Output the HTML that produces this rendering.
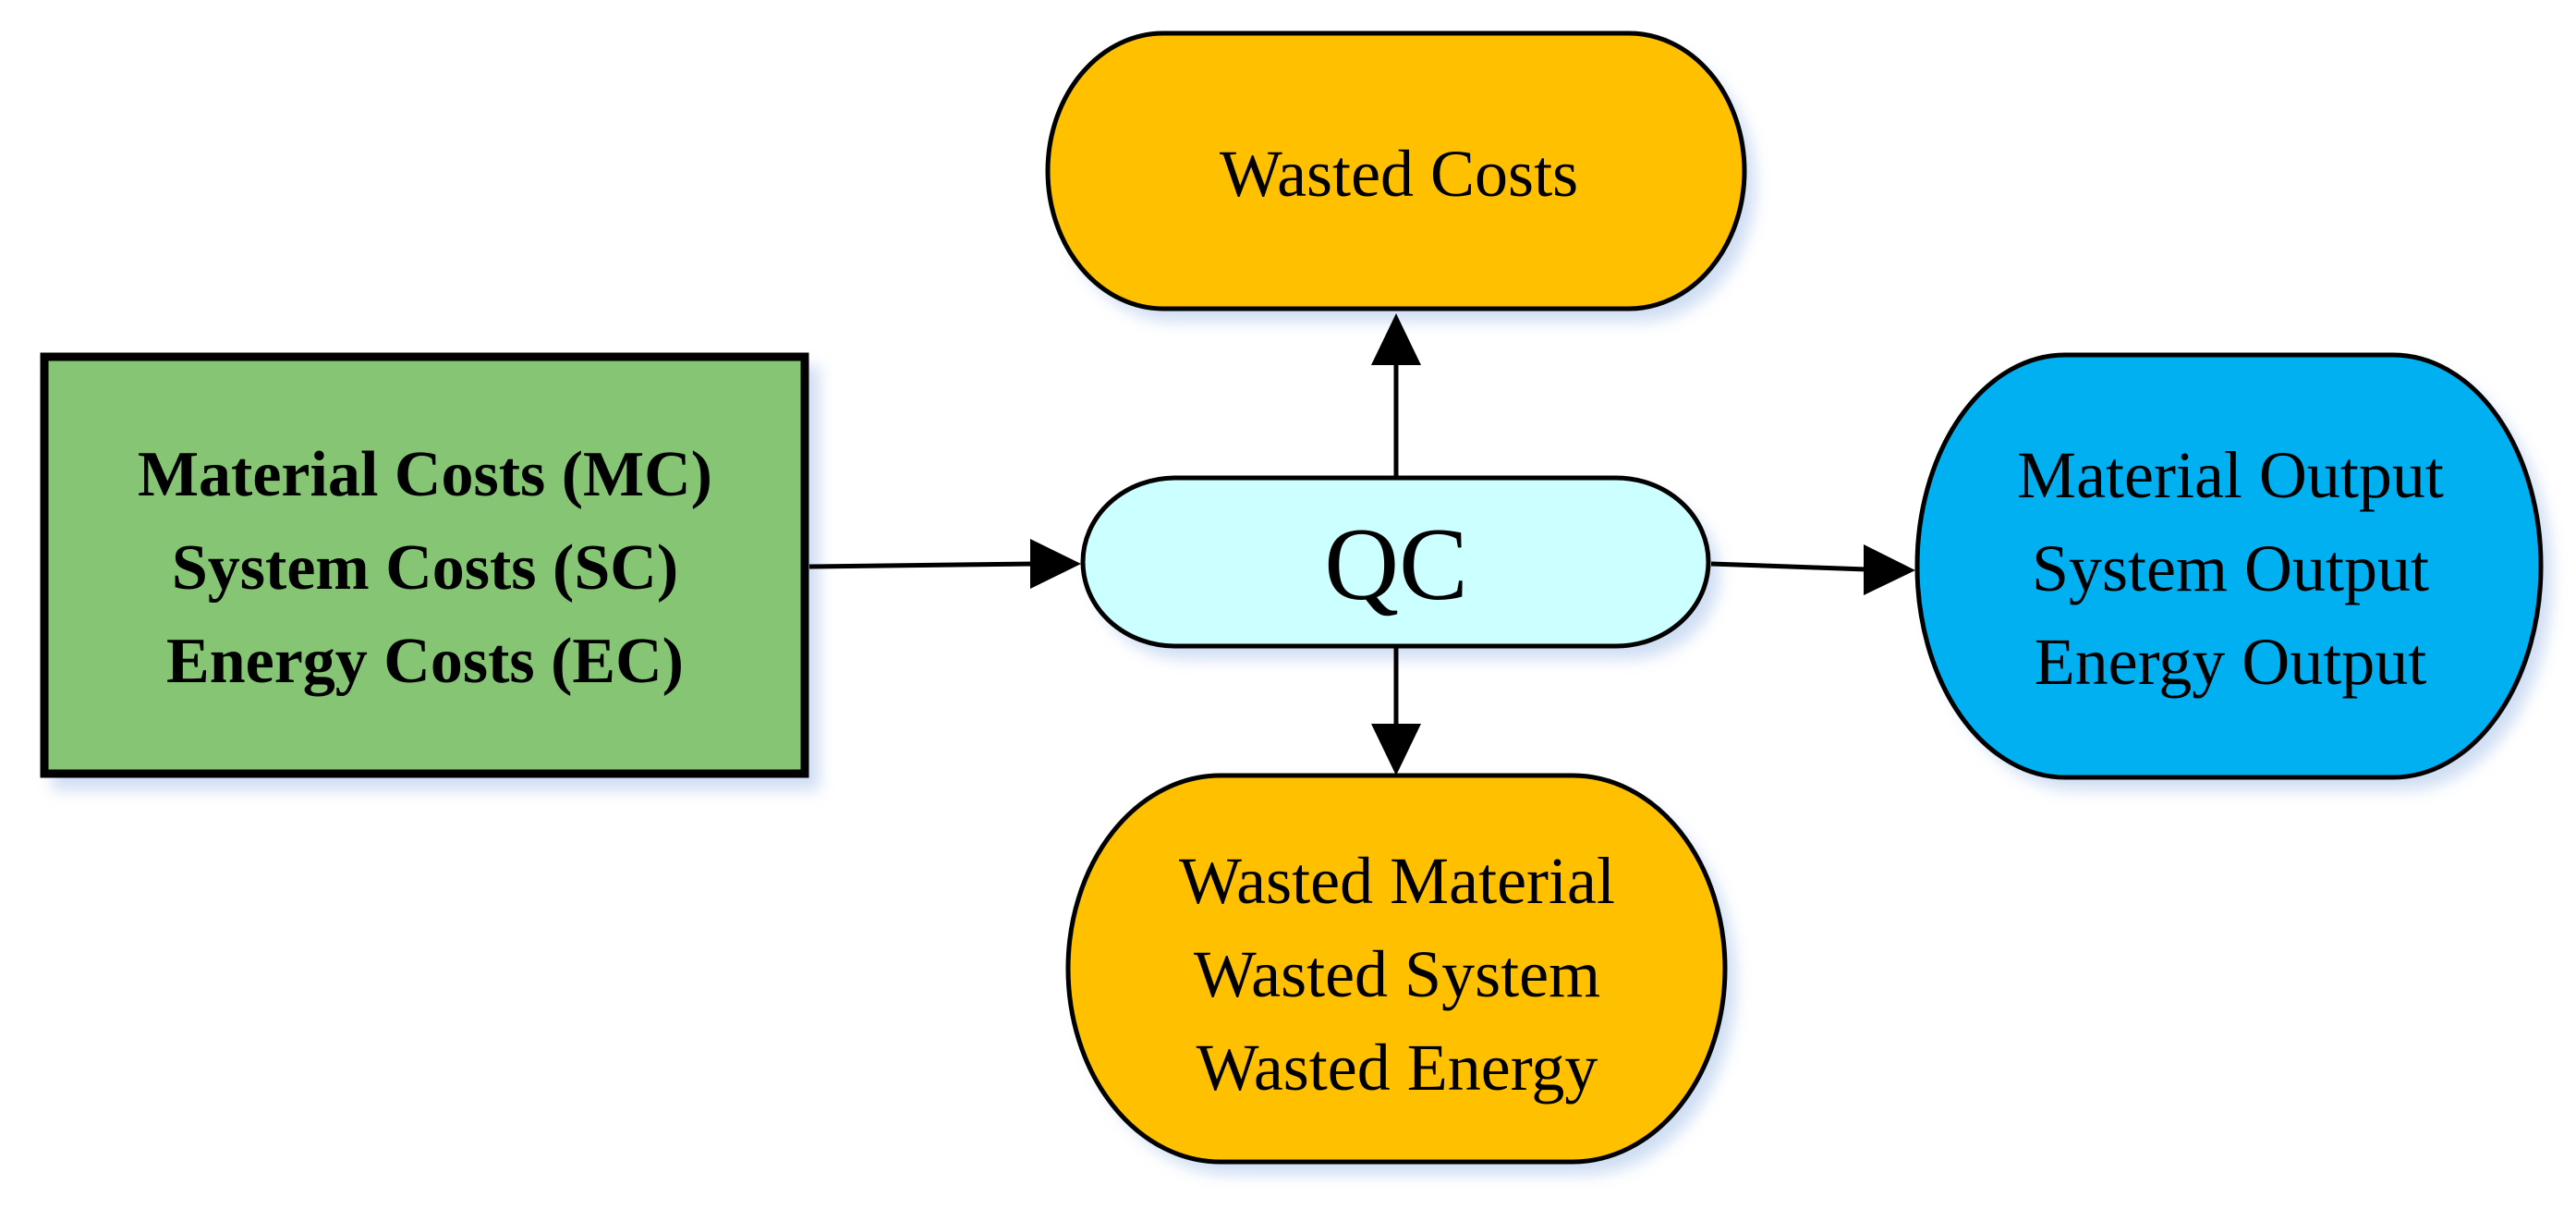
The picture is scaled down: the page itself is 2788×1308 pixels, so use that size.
<!DOCTYPE html>
<html><head><meta charset="utf-8"><style>
html,body{margin:0;padding:0;background:#fff;}
svg{display:block;}
text{font-family:"Liberation Serif",serif;fill:#000;}
</style></head><body>
<svg width="2788" height="1308" viewBox="0 0 2788 1308" xmlns="http://www.w3.org/2000/svg">
<defs>
<filter id="sh" x="-10%" y="-10%" width="130%" height="130%">
<feGaussianBlur stdDeviation="8"/>
</filter>
</defs>
<!-- shadows -->
<g fill="#a9c3ea" opacity="0.55" filter="url(#sh)">
<rect x="56" y="396" width="831" height="459"/>
<rect x="1146" y="50" width="754" height="298" rx="125" ry="149"/>
<rect x="1184" y="531" width="677" height="182" rx="100" ry="91"/>
<rect x="2087" y="396" width="675" height="459" rx="160" ry="229"/>
<rect x="1168" y="853" width="711" height="418" rx="165" ry="209"/>
</g>
<!-- green -->
<rect x="48" y="386" width="823" height="451" fill="#85c574" stroke="#000" stroke-width="9"/>
<text x="460" y="536" font-size="70" font-weight="bold" text-anchor="middle">Material Costs (MC)</text>
<text x="460" y="637" font-size="70" font-weight="bold" text-anchor="middle">System Costs (SC)</text>
<text x="460" y="738" font-size="70" font-weight="bold" text-anchor="middle">Energy Costs (EC)</text>
<!-- wasted costs -->
<rect x="1134" y="36" width="754" height="298" rx="125" ry="149" fill="#ffc000" stroke="#000" stroke-width="5"/>
<text x="1514" y="212" font-size="72" text-anchor="middle">Wasted Costs</text>
<!-- QC -->
<rect x="1172" y="517" width="677" height="182" rx="100" ry="91" fill="#ccffff" stroke="#000" stroke-width="5"/>
<text x="1511" y="648" font-size="112" text-anchor="middle">QC</text>
<!-- blue -->
<rect x="2075" y="384" width="675" height="457" rx="160" ry="228" fill="#00b0f0" stroke="#000" stroke-width="5"/>
<text x="2414" y="538" font-size="72" text-anchor="middle">Material Output</text>
<text x="2414" y="639" font-size="72" text-anchor="middle">System Output</text>
<text x="2414" y="740" font-size="72" text-anchor="middle">Energy Output</text>
<!-- bottom -->
<rect x="1156" y="839" width="711" height="418" rx="165" ry="209" fill="#ffc000" stroke="#000" stroke-width="5"/>
<text x="1512" y="977" font-size="72" text-anchor="middle">Wasted Material</text>
<text x="1512" y="1078" font-size="72" text-anchor="middle">Wasted System</text>
<text x="1512" y="1179" font-size="72" text-anchor="middle">Wasted Energy</text>
<!-- arrows -->
<g stroke="#000" stroke-width="5" fill="none">
<line x1="876" y1="613" x2="1120" y2="610"/>
<line x1="1511" y1="517" x2="1511" y2="390"/>
<line x1="1511" y1="699" x2="1511" y2="790"/>
<line x1="1852" y1="610" x2="2020" y2="616"/>
</g>
<g fill="#000">
<polygon points="1170,610 1115,583 1115,637"/>
<polygon points="1511,339 1484,395 1538,395"/>
<polygon points="1511,839 1484,783 1538,783"/>
<polygon points="2073,617 2017,589 2017,644"/>
</g>
</svg>
</body></html>
